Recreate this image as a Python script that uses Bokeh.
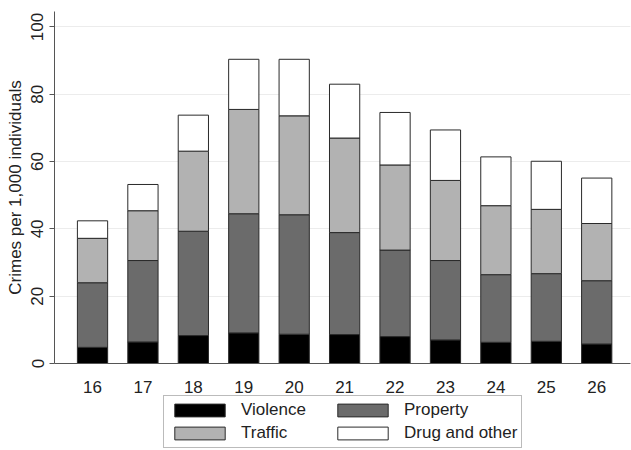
from bokeh.plotting import figure
from bokeh.layouts import column
from bokeh.models import ColumnDataSource, Legend, LegendItem, FixedTicker, Range1d
from bokeh.embed import file_html
from bokeh.resources import INLINE

# Crimes per 1,000 individuals by age, split by crime type
ages = [16, 17, 18, 19, 20, 21, 22, 23, 24, 25, 26]
violence = [4.8, 6.4, 8.3, 9.1, 8.7, 8.6, 8.0, 7.0, 6.3, 6.6, 5.8]
property_ = [19.2, 24.2, 31.0, 35.4, 35.5, 30.3, 25.7, 23.6, 20.1, 20.1, 18.8]
traffic = [13.2, 14.8, 23.8, 31.0, 29.4, 28.1, 25.3, 23.8, 20.5, 19.1, 17.0]
drug_other = [5.2, 7.8, 10.7, 14.9, 16.8, 16.0, 15.6, 15.0, 14.5, 14.3, 13.5]

series = ["violence", "property", "traffic", "drug"]
labels = ["Violence", "Property", "Traffic", "Drug and other"]
colors = ["#000000", "#6b6b6b", "#b2b2b2", "#ffffff"]

src = ColumnDataSource(dict(age=ages, violence=violence, property=property_,
                            traffic=traffic, drug=drug_other))

FONT = "Liberation Sans"
FS = "17px"
TXT = "#222222"
EDGE = "#2a2a2a"

# ---- main stacked bar chart ----
p = figure(width=631, height=395, output_backend="svg", toolbar_location=None,
           x_range=Range1d(15.246, 26.67), y_range=Range1d(0, 104.6))
p.min_border_left = 54
p.min_border_right = 1
p.min_border_top = 11
p.min_border_bottom = 31
p.outline_line_color = None
p.border_fill_color = "white"

renderers = p.vbar_stack(series, x="age", width=0.6, source=src,
                         fill_color=colors, line_color=EDGE, line_width=1)

p.xaxis.ticker = FixedTicker(ticks=ages)
p.xaxis.major_tick_line_color = None
p.xaxis.minor_tick_line_color = None
p.xaxis.axis_line_color = "#555555"
p.xaxis.major_label_standoff = 11
p.xaxis.major_label_text_font = FONT
p.xaxis.major_label_text_font_size = FS
p.xaxis.major_label_text_color = TXT

p.yaxis.ticker = FixedTicker(ticks=[0, 20, 40, 60, 80, 100])
p.yaxis.minor_tick_line_color = None
p.yaxis.major_tick_out = 5
p.yaxis.major_tick_in = 0
p.yaxis.major_tick_line_color = "#555555"
p.yaxis.axis_line_color = "#555555"
p.yaxis.major_label_orientation = "vertical"
p.yaxis.major_label_standoff = 6
p.yaxis.major_label_text_font = FONT
p.yaxis.major_label_text_font_size = FS
p.yaxis.major_label_text_color = TXT
p.yaxis.axis_label = "Crimes per 1,000 individuals"
p.yaxis.axis_label_text_font = FONT
p.yaxis.axis_label_text_font_size = FS
p.yaxis.axis_label_text_font_style = "normal"
p.yaxis.axis_label_text_color = TXT
p.yaxis.axis_label_standoff = 4

p.xgrid.grid_line_color = None
p.ygrid.grid_line_color = "#ececec"
p.ygrid.grid_line_width = 1

# ---- legend strip below the chart ----
lg = figure(width=631, height=55, output_backend="svg", toolbar_location=None,
            x_range=Range1d(0, 1), y_range=Range1d(0, 1))
lg.min_border = 0
lg.axis.visible = False
lg.grid.visible = False
lg.outline_line_color = None
lg.border_fill_color = "white"

# one placeholder row per category so the legend has a swatch style to draw
nan = float("nan")
swatches = [lg.vbar(x=[nan], top=[nan], width=0.1, fill_color=c, line_color=EDGE, line_width=1)
            for c in colors]

legend = Legend(items=[LegendItem(label=l, renderers=[r]) for l, r in zip(labels, swatches)],
                ncols=2, location=(109, 2), orientation="horizontal")
legend.glyph_width = 63
legend.glyph_height = 16
legend.label_standoff = 10
legend.label_width = 87
legend.spacing = 3
legend.padding = 4
legend.margin = 0
legend.label_text_font = FONT
legend.label_text_font_size = FS
legend.label_text_color = TXT
legend.border_line_color = "#777777"
legend.border_line_width = 1
legend.background_fill_alpha = 1
lg.add_layout(legend, "center")

layout = column(p, lg, spacing=0)
open("out.html", "w").write(file_html(layout, INLINE))
